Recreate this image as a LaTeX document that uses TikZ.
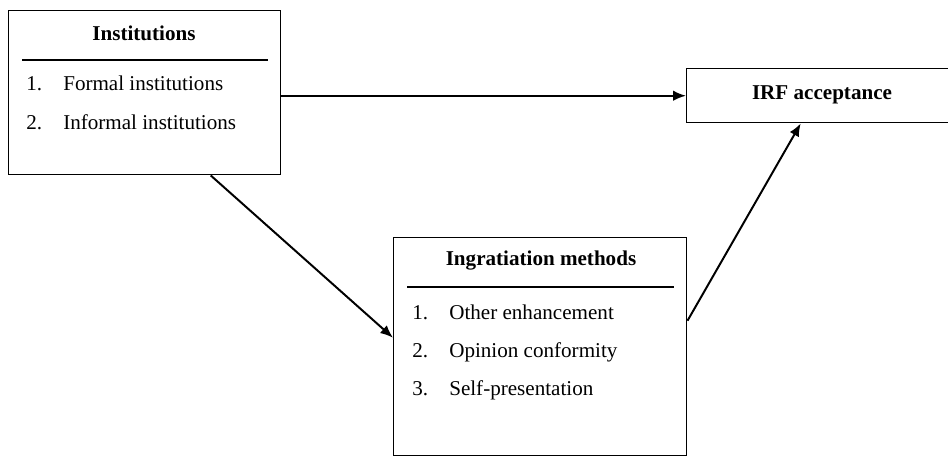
\documentclass[tikz,border=0pt]{standalone}
\usepackage{fontspec}
\setmainfont{Liberation Serif}
\usetikzlibrary{arrows.meta,calc}

\tikzset{
	box/.style={draw, line width=1pt, rectangle, anchor=north west, inner sep=0pt},
	item/.style={anchor=base west, inner sep=0pt},
	title/.style={inner sep=0pt, font=\bfseries},
	link/.style={line width=1.4pt, -{Latex[length=3.2mm, width=2.6mm]}}
}

\begin{document}
\begin{tikzpicture}[x=0.025cm, y=-0.025cm]
				\fontsize{15}{18}\selectfont
				\useasboundingbox (0,0) rectangle (948,456);
				% boxes
				\node[box, minimum width=6.8cm, minimum height=4.1cm] (inst) at (8,10) {};
				\node[box, minimum width=7.325cm, minimum height=5.45cm] (ingr) at (393,237) {};
				\node[box, minimum width=7cm, minimum height=1.35cm] (irf) at (686,68) {};

				% Institutions
				\node[title] (instTitle) at (144,33) {Institutions};
				\draw[line width=1pt] (22,60) -- (268,60);
				\node[item] (instA) at (26,90) {1.};
				\node[item] (instAt) at (63,90) {Formal institutions};
				\node[item] (instB) at (26,129) {2.};
				\node[item] (instBt) at (63,129) {Informal institutions};

				% Ingratiation methods
				\node[title] (ingrTitle) at (541,261) {Ingratiation methods};
				\draw[line width=0.8pt] (407,287) -- (674,287);
				\node[item] (ingrA) at (412,319) {1.};
				\node[item] (ingrAt) at (449,319) {Other enhancement};
				\node[item] (ingrB) at (412,357) {2.};
				\node[item] (ingrBt) at (449,357) {Opinion conformity};
				\node[item] (ingrC) at (412,395) {3.};
				\node[item] (ingrCt) at (449,395) {Self-presentation};

				% IRF acceptance
				\node[title] (irfTitle) at (822,95) {IRF acceptance};

				% paths
				\draw[link] (inst.east |- irf.west) -- (irf.west);
				\draw[link] ($(inst.south)+(66,0)$) -- ($(ingr.west)+(0,-9)$);
				\draw[link] ($(ingr.east)+(0,-26)$) -- ($(irf.south)+(-26,0)$);
			\end{tikzpicture}
\end{document}
